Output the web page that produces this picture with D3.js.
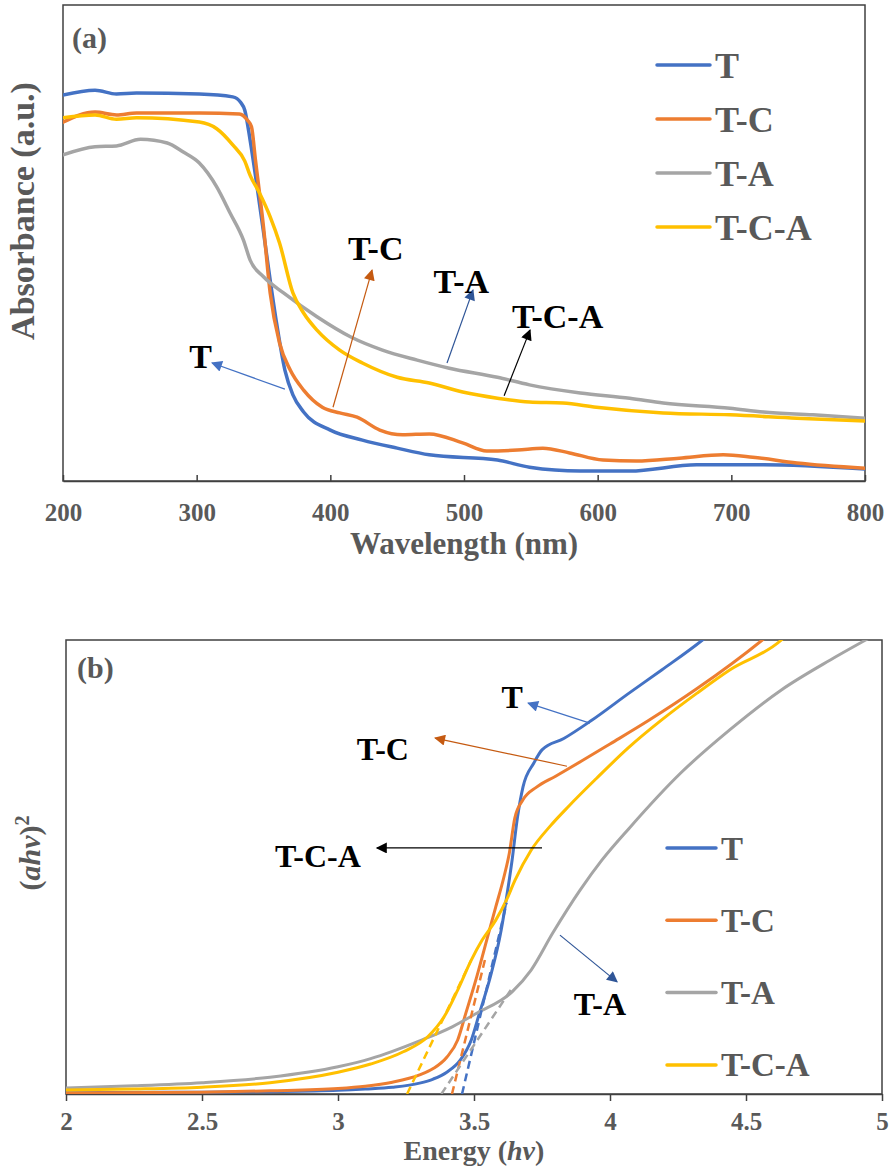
<!DOCTYPE html>
<html><head><meta charset="utf-8">
<script src="https://cdn.jsdelivr.net/npm/d3@7"></script>
<style>body{margin:0;background:#fff} svg{display:block}</style>
</head><body>
<svg id="chart" width="889" height="1166"></svg>
<script>
// ---------- DATA ----------
const seriesNames = ["T", "T-C", "T-A", "T-C-A"];
const seriesColors = ["#4472C4", "#ED7D31", "#A5A5A5", "#FFC000"];

// Panel (a): wavelength (nm) vs absorbance (a.u.)
const wlTicks = [200, 300, 400, 500, 600, 700, 800];
const absT = [[200,0.811],[224,0.821],[240,0.813],[255,0.815],[302,0.813],[327,0.807],[333,0.795],[336,0.779],[340,0.716],[345,0.622],[350,0.523],[355,0.422],[360,0.328],[366,0.233],[372,0.181],[380,0.145],[400,0.107],[424,0.086],[450,0.069],[474,0.055],[525,0.044],[549,0.029],[587,0.021],[624,0.021],[674,0.034],[724,0.034],[800,0.025]];
const absTC = [[200,0.754],[224,0.775],[240,0.769],[255,0.773],[302,0.773],[332,0.771],[338,0.758],[341,0.744],[344,0.674],[350,0.534],[355,0.395],[362,0.290],[370,0.233],[380,0.191],[394,0.155],[407,0.143],[420,0.134],[437,0.107],[454,0.097],[474,0.099],[499,0.080],[517,0.063],[540,0.065],[559,0.069],[579,0.059],[604,0.044],[629,0.042],[661,0.048],[694,0.055],[716,0.050],[749,0.038],[800,0.027]];
const absTA = [[200,0.685],[224,0.702],[240,0.704],[258,0.718],[278,0.710],[290,0.691],[302,0.668],[315,0.618],[325,0.563],[335,0.506],[340,0.464],[350,0.429],[365,0.395],[390,0.345],[415,0.303],[439,0.275],[465,0.254],[489,0.237],[525,0.218],[549,0.202],[587,0.185],[624,0.174],[649,0.164],[699,0.153],[724,0.145],[761,0.139],[800,0.132]];
const absTCA = [[200,0.763],[224,0.769],[240,0.760],[255,0.763],[302,0.754],[315,0.740],[327,0.706],[336,0.672],[340,0.642],[347,0.605],[355,0.555],[362,0.500],[372,0.395],[380,0.353],[390,0.317],[407,0.275],[424,0.248],[450,0.218],[474,0.206],[499,0.187],[525,0.174],[549,0.166],[574,0.164],[599,0.155],[649,0.143],[699,0.139],[749,0.132],[800,0.126]];

// Panel (b): photon energy vs (ahv)^2 (a.u.)
const eTicks = [2, 2.5, 3, 3.5, 4, 4.5, 5];
const taucT = [[2.00,0.003],[2.50,0.004],[2.75,0.005],[3.00,0.008],[3.10,0.011],[3.20,0.015],[3.30,0.024],[3.35,0.033],[3.40,0.048],[3.45,0.075],[3.49,0.119],[3.52,0.178],[3.56,0.258],[3.60,0.361],[3.62,0.434],[3.64,0.515],[3.66,0.610],[3.68,0.676],[3.72,0.729],[3.75,0.758],[3.83,0.783],[3.93,0.822],[4.07,0.883],[4.19,0.934],[4.34,1.000],[4.40,1.03]];
const taucTC = [[2.00,0.002],[2.50,0.004],[2.75,0.007],[3.00,0.012],[3.10,0.017],[3.20,0.026],[3.30,0.042],[3.35,0.056],[3.40,0.081],[3.44,0.119],[3.47,0.178],[3.51,0.258],[3.55,0.346],[3.58,0.412],[3.61,0.478],[3.63,0.531],[3.65,0.608],[3.68,0.648],[3.73,0.676],[3.80,0.700],[3.90,0.735],[4.00,0.771],[4.14,0.822],[4.32,0.893],[4.56,1.000],[4.62,1.03]];
const taucTA = [[2.00,0.013],[2.25,0.018],[2.50,0.025],[2.75,0.037],[3.00,0.060],[3.12,0.078],[3.20,0.094],[3.30,0.117],[3.42,0.148],[3.51,0.178],[3.64,0.225],[3.71,0.273],[3.79,0.355],[3.89,0.449],[3.97,0.515],[4.07,0.585],[4.26,0.707],[4.44,0.802],[4.63,0.890],[4.81,0.956],[4.94,1.000],[5.00,1.02]];
const taucTCA = [[2.00,0.009],[2.25,0.011],[2.50,0.015],[2.75,0.025],[3.00,0.048],[3.12,0.066],[3.24,0.093],[3.33,0.126],[3.39,0.170],[3.44,0.229],[3.49,0.295],[3.53,0.339],[3.58,0.383],[3.62,0.428],[3.65,0.470],[3.71,0.537],[3.78,0.590],[3.85,0.635],[3.95,0.695],[4.07,0.764],[4.19,0.824],[4.32,0.883],[4.44,0.934],[4.63,1.000],[4.68,1.03]];

// Tangent (band-gap extrapolation) lines, panel (b)
const tangentT = [[3.456,0],[3.62,0.421]];
const tangentTC = [[3.419,0],[3.54,0.295]];
const tangentTA = [[3.38,0],[3.643,0.236]];
const tangentTCA = [[3.254,0],[3.49,0.295]];

// Annotations: label, label position, arrow start, arrow tip (data coords), arrow colour
const annotA = [
  {label:"T",     pos:[303,0.237], from:[366,0.193], to:[311.5,0.248], color:"#4472C4"},
  {label:"T-C",   pos:[434,0.464], from:[402,0.155], to:[431.2,0.443], color:"#C55A11"},
  {label:"T-A",   pos:[498,0.395], from:[487.3,0.248], to:[506.7,0.401], color:"#2F5597"},
  {label:"T-C-A", pos:[570,0.321], from:[530,0.179], to:[549.4,0.317], color:"#000000"}
];
const annotB = [
  {label:"T",     pos:[3.64,0.850], from:[3.926,0.817], to:[3.699,0.861], color:"#4472C4"},
  {label:"T-C",   pos:[3.165,0.736], from:[3.842,0.722], to:[3.357,0.784], color:"#C55A11"},
  {label:"T-C-A", pos:[2.926,0.500], from:[3.75,0.542], to:[3.143,0.542], color:"#000000"},
  {label:"T-A",   pos:[3.963,0.174], from:[3.816,0.350], to:[4.026,0.247], color:"#2F5597"}
];

// ---------- DRAW ----------
const FONT = "'Liberation Serif','Times New Roman',serif";
const GREY = "#595959";
const svg = d3.select("#chart");
svg.append("rect").attr("width",889).attr("height",1166).attr("fill","#fff");

const defs = svg.append("defs");
function marker(color){
  const id = "arr" + color.replace("#","");
  if (!defs.select("#"+id).empty()) return id;
  defs.append("marker").attr("id",id).attr("viewBox","0 0 10 10")
    .attr("refX",9).attr("refY",5).attr("markerWidth",13).attr("markerHeight",11)
    .attr("markerUnits","userSpaceOnUse").attr("orient","auto")
    .append("path").attr("d","M0,0L10,5L0,10Z").attr("fill",color);
  return id;
}

function panel(cfg){
  const g = svg.append("g");
  const x = d3.scaleLinear().domain(cfg.xDomain).range([cfg.left, cfg.right]);
  const y = d3.scaleLinear().domain([0,1]).range([cfg.bottom, cfg.top]);
  const clipId = "clip"+cfg.name;
  defs.append("clipPath").attr("id",clipId).append("rect")
    .attr("x",cfg.left).attr("y",cfg.top).attr("width",cfg.right-cfg.left).attr("height",cfg.bottom-cfg.top);

  // frame
  g.append("rect").attr("x",cfg.left).attr("y",cfg.top)
    .attr("width",cfg.right-cfg.left).attr("height",cfg.bottom-cfg.top)
    .attr("fill","none").attr("stroke","#404040").attr("stroke-width",1.5);

  // axis
  const ax = d3.axisBottom(x).tickValues(cfg.ticks).tickFormat(d3.format("~g"))
    .tickSizeInner(cfg.tickInner).tickSizeOuter(0).tickPadding(cfg.tickPad);
  const axg = g.append("g").attr("transform",`translate(0,${cfg.bottom})`).call(ax);
  axg.select(".domain").attr("stroke","#404040").attr("stroke-width",1.5);
  axg.selectAll(".tick line").attr("stroke","#404040").attr("stroke-width",1.5);
  axg.selectAll(".tick text").attr("font-family",FONT).attr("font-weight","bold")
    .attr("font-size",25).attr("fill",GREY);

  const line = d3.line().x(d=>x(d[0])).y(d=>y(d[1])).curve(d3.curveMonotoneX);
  const cg = g.append("g").attr("clip-path",`url(#${clipId})`);
  cfg.series.forEach((s,i)=>{
    cg.append("path").datum(s).attr("d",line).attr("fill","none")
      .attr("stroke",seriesColors[i]).attr("stroke-width",cfg.lw)
      .attr("stroke-linejoin","round").attr("stroke-linecap","round");
  });
  if (cfg.tangents){
    const tl = d3.line().x(d=>x(d[0])).y(d=>y(d[1]));
    cfg.tangents.forEach((t,i)=>{
      cg.append("path").datum(t).attr("d",tl).attr("fill","none")
        .attr("stroke",seriesColors[i]).attr("stroke-width",2.5)
        .attr("stroke-dasharray","8,5");
    });
  }

  // annotations
  cfg.annot.forEach(a=>{
    g.append("line").attr("x1",x(a.from[0])).attr("y1",y(a.from[1]))
      .attr("x2",x(a.to[0])).attr("y2",y(a.to[1]))
      .attr("stroke",a.color).attr("stroke-width",1.2)
      .attr("marker-end",`url(#${marker(a.color)})`);
    g.append("text").attr("x",x(a.pos[0])).attr("y",y(a.pos[1]))
      .attr("text-anchor","middle").attr("font-family",FONT).attr("font-weight","bold")
      .attr("font-size",cfg.annotSize).attr("fill","#000").text(a.label);
  });

  // legend
  seriesNames.forEach((n,i)=>{
    const ly = cfg.legY + i*cfg.legStep;
    g.append("line").attr("x1",cfg.legX).attr("x2",cfg.legX+cfg.legLen).attr("y1",ly).attr("y2",ly)
      .attr("stroke",seriesColors[i]).attr("stroke-width",3.5).attr("stroke-linecap","round");
    g.append("text").attr("x",cfg.legX+cfg.legLen+5).attr("y",ly).attr("dy","0.35em")
      .attr("font-family",FONT).attr("font-weight","bold").attr("font-size",cfg.legSize)
      .attr("fill",GREY).text(n);
  });

  // panel tag
  g.append("text").attr("x",cfg.left+cfg.tagDx).attr("y",cfg.top+cfg.tagDy)
    .attr("font-family",FONT).attr("font-weight","bold").attr("font-size",30)
    .attr("fill",GREY).text(cfg.tag);
  return {g,x,y};
}

const A = panel({name:"a", xDomain:[200,800], ticks:wlTicks, left:63, right:865, top:5, bottom:481,
  tickInner:-6, tickPad:22, lw:3.5, series:[absT,absTC,absTA,absTCA], annot:annotA, annotSize:34,
  legX:657, legLen:53, legY:65, legStep:54, legSize:36, tag:"(a)", tagDx:9, tagDy:43});

const B = panel({name:"b", xDomain:[2,5], ticks:eTicks, left:66, right:882, top:640, bottom:1094,
  tickInner:7, tickPad:11, lw:3, series:[taucT,taucTC,taucTA,taucTCA], tangents:[tangentT,tangentTC,tangentTA,tangentTCA],
  annot:annotB, annotSize:32, legX:667, legLen:49, legY:848, legStep:72.3, legSize:33, tag:"(b)", tagDx:11, tagDy:38});

// axis titles
svg.append("text").attr("x",464).attr("y",554).attr("text-anchor","middle")
  .attr("font-family",FONT).attr("font-weight","bold").attr("font-size",31).attr("fill",GREY)
  .text("Wavelength (nm)");
svg.append("text").attr("transform","translate(34,211) rotate(-90)").attr("text-anchor","middle")
  .attr("font-family",FONT).attr("font-weight","bold").attr("font-size",34).attr("fill",GREY)
  .text("Absorbance (a.u.)");

const et = svg.append("text").attr("x",474).attr("y",1160).attr("text-anchor","middle")
  .attr("font-family",FONT).attr("font-weight","bold").attr("font-size",28).attr("fill",GREY);
et.append("tspan").text("Energy (");
et.append("tspan").attr("font-style","italic").text("hv");
et.append("tspan").text(")");

const yt = svg.append("text").attr("transform","translate(40,853) rotate(-90)").attr("text-anchor","middle")
  .attr("font-family",FONT).attr("font-weight","bold").attr("font-size",30).attr("fill",GREY);
yt.append("tspan").text("(");
yt.append("tspan").attr("font-style","italic").text("ahv");
yt.append("tspan").text(")");
yt.append("tspan").attr("font-size",20).attr("dy",-11).text("2");
</script>
</body></html>
